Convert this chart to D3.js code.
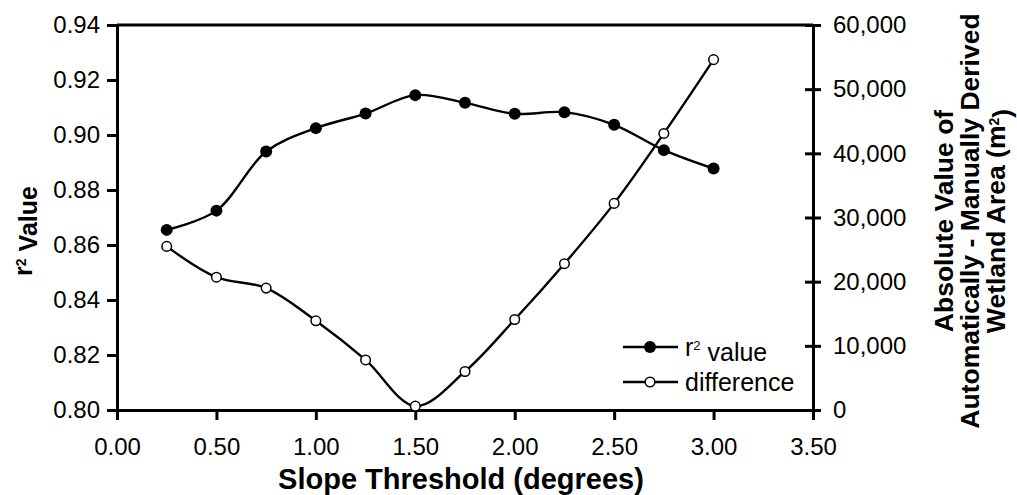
<!DOCTYPE html>
<html>
<head>
<meta charset="utf-8">
<script src="https://cdn.jsdelivr.net/npm/d3@7"></script>
<style>
  html, body { margin: 0; padding: 0; background: #fff; }
  svg text { font-family: "Liberation Sans", Arial, sans-serif; fill: #000; }
</style>
</head>
<body>
<div id="chart"></div>
<script>
// ---- data ----
var slopes = [0.25, 0.5, 0.75, 1.0, 1.25, 1.5, 1.75, 2.0, 2.25, 2.5, 2.75, 3.0];
var r2Values = [0.8655, 0.8725, 0.8940, 0.9025, 0.9078, 0.9145, 0.9117, 0.9077, 0.9083, 0.9037, 0.8945, 0.8878];
var diffValues = [25500, 20700, 19000, 13900, 7800, 600, 6000, 14100, 22800, 32200, 43100, 54600];
var xTicks = [0, 0.5, 1, 1.5, 2, 2.5, 3, 3.5];
var leftTicks = [0.80, 0.82, 0.84, 0.86, 0.88, 0.90, 0.92, 0.94];
var rightTicks = [0, 10000, 20000, 30000, 40000, 50000, 60000];

// ---- layout ----
var W = 1017, H = 495;
var plot = { left: 117, right: 813, top: 25, bottom: 410 };

var svg = d3.select("#chart").append("svg")
    .attr("width", W).attr("height", H);

var x = d3.scaleLinear().domain([0, 3.5]).range([plot.left, plot.right]);
var yL = d3.scaleLinear().domain([0.80, 0.94]).range([plot.bottom, plot.top]);
var yR = d3.scaleLinear().domain([0, 60000]).range([plot.bottom, plot.top]);

var fontSize = 24;

// top border
svg.append("line")
    .attr("x1", plot.left).attr("x2", plot.right)
    .attr("y1", plot.top).attr("y2", plot.top)
    .attr("stroke", "#000").attr("stroke-width", 3);

// x axis
var gx = svg.append("g")
    .attr("transform", "translate(0," + plot.bottom + ")")
    .call(d3.axisBottom(x).tickValues(xTicks).tickFormat(d3.format(".2f"))
        .tickSizeInner(10).tickSizeOuter(0).tickPadding(18));

// left axis
var gl = svg.append("g")
    .attr("transform", "translate(" + plot.left + ",0)")
    .call(d3.axisLeft(yL).tickValues(leftTicks).tickFormat(d3.format(".2f"))
        .tickSizeInner(10).tickSizeOuter(0).tickPadding(7));

// right axis (ticks cross the line)
var gr = svg.append("g")
    .attr("transform", "translate(" + plot.right + ",0)")
    .call(d3.axisRight(yR).tickValues(rightTicks).tickFormat(d3.format(","))
        .tickSizeInner(8).tickSizeOuter(0).tickPadding(12));
gr.selectAll(".tick line").attr("x1", -8);

[gx, gl, gr].forEach(function (g) {
    g.select(".domain").attr("stroke-width", 3);
    g.selectAll(".tick line").attr("stroke-width", 3);
    g.selectAll(".tick text")
        .style("font-size", fontSize + "px")
        .style("font-family", "'Liberation Sans', Arial, sans-serif");
});

// lines
var rows = slopes.map(function (s, i) {
    return { s: s, r2: r2Values[i], diff: diffValues[i] };
});

var r2Line = d3.line()
    .x(function (d) { return x(d.s); })
    .y(function (d) { return yL(d.r2); })
    .curve(d3.curveCatmullRom.alpha(0.5));
var diffLine = d3.line()
    .x(function (d) { return x(d.s); })
    .y(function (d) { return yR(d.diff); })
    .curve(d3.curveCatmullRom.alpha(0.5));

svg.append("path").datum(rows)
    .attr("d", r2Line).attr("fill", "none")
    .attr("stroke", "#000").attr("stroke-width", 2.4);
svg.append("path").datum(rows)
    .attr("d", diffLine).attr("fill", "none")
    .attr("stroke", "#000").attr("stroke-width", 2.4);

svg.selectAll(".r2-dot").data(rows).join("circle")
    .attr("class", "r2-dot")
    .attr("cx", function (d) { return x(d.s); })
    .attr("cy", function (d) { return yL(d.r2); })
    .attr("r", 6).attr("fill", "#000");
svg.selectAll(".diff-dot").data(rows).join("circle")
    .attr("class", "diff-dot")
    .attr("cx", function (d) { return x(d.s); })
    .attr("cy", function (d) { return yR(d.diff); })
    .attr("r", 4.8).attr("fill", "#fff")
    .attr("stroke", "#000").attr("stroke-width", 1.5);

// legend
var legend = svg.append("g").attr("transform", "translate(623,347)");
var items = [
    { label: "r", sup: "2", rest: " value", filled: true },
    { label: "difference", filled: false }
];
items.forEach(function (it, i) {
    var g = legend.append("g").attr("transform", "translate(0," + (i * 35) + ")");
    g.append("line").attr("x1", 0).attr("x2", 55)
        .attr("stroke", "#000").attr("stroke-width", 2.4);
    g.append("circle").attr("cx", 27).attr("r", it.filled ? 6 : 4.8)
        .attr("fill", it.filled ? "#000" : "#fff")
        .attr("stroke", "#000").attr("stroke-width", it.filled ? 0 : 1.5);
    var t = g.append("text").attr("x", 62).attr("dy", "0.36em")
        .style("font-size", "25px");
    t.append("tspan").text(it.label);
    if (it.sup) {
        t.append("tspan").attr("dy", "-0.45em").style("font-size", "13px").text(it.sup);
        t.append("tspan").attr("dy", "0.45em").text(it.rest);
    }
});

// axis titles
svg.append("text")
    .attr("x", 461).attr("y", 489)
    .attr("text-anchor", "middle")
    .style("font-size", "29px").style("font-weight", "bold")
    .text("Slope Threshold (degrees)");

var lt = svg.append("text")
    .attr("transform", "translate(32,231) rotate(-90)")
    .attr("text-anchor", "middle")
    .style("font-size", "25px").style("font-weight", "bold");
lt.append("tspan").text("r");
lt.append("tspan").attr("dy", "-0.45em").style("font-size", "14px").text("2");
lt.append("tspan").attr("dy", "0.45em").text(" Value");

var rightTitle = ["Absolute Value of", "Automatically - Manually Derived", "Wetland Area (m"];
var rt = svg.append("g").attr("transform", "translate(953,221) rotate(-90)");
rightTitle.forEach(function (line, i) {
    var t = rt.append("text")
        .attr("x", 0).attr("y", i * 26)
        .attr("text-anchor", "middle")
        .style("font-size", "26.5px").style("font-weight", "bold");
    t.append("tspan").text(line);
    if (i === 2) {
        t.append("tspan").attr("dy", "-0.45em").style("font-size", "14px").text("2");
        t.append("tspan").attr("dy", "0.45em").text(")");
    }
});
</script>
</body>
</html>
